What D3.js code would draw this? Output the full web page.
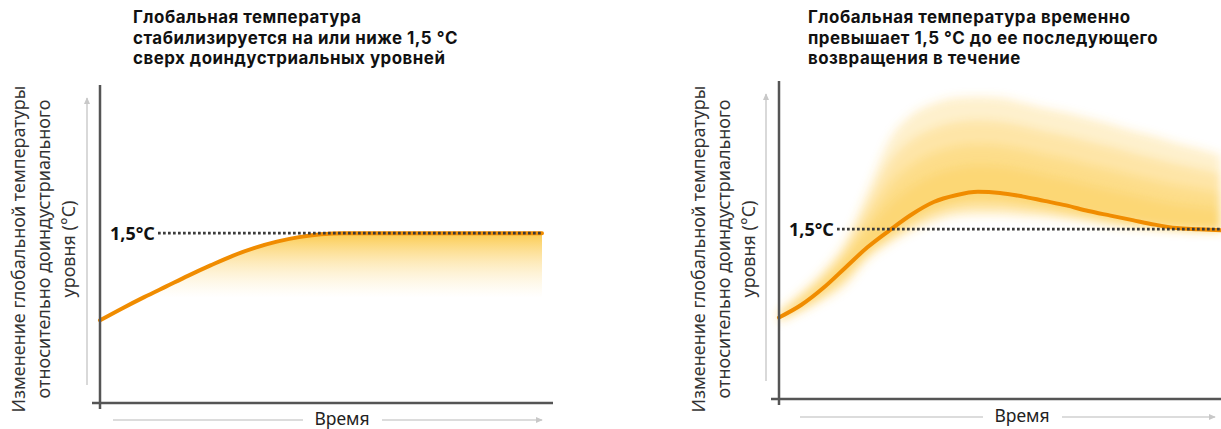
<!DOCTYPE html>
<html lang="ru">
<head>
<meta charset="UTF-8">
<title>1,5 °C</title>
<script src="https://d3js.org/d3.v7.min.js"></script>
<style>
  body { margin: 0; background: #fff; }
  svg text { font-family: "Noto Sans", "DejaVu Sans", sans-serif; }
  svg text.title { font-family: Inter, "Noto Sans", sans-serif; letter-spacing: 0.5px; }
</style>
</head>
<body>
<svg width="1221" height="429"></svg>
<script>
// --- data (time in arbitrary units 0..100, temperature change in °C) ---
const leftTitle = ["Глобальная температура", "стабилизируется на или ниже 1,5 °C", "сверх доиндустриальных уровней"];
const rightTitle = ["Глобальная температура временно", "превышает 1,5 °C до ее последующего", "возвращения в течение"];
const yLabel = ["Изменение глобальной температуры", "относительно доиндустриального", "уровня (°C)"];
const xLabel = "Время";
const thresholdLabel = "1,5°C";
const threshold = 1.5;

const leftTime = [0, 5, 10, 15, 20, 25, 30, 35, 40, 45, 50, 55, 60, 70, 80, 90, 100];
const leftTemp = [0.73, 0.835, 0.935, 1.03, 1.125, 1.215, 1.30, 1.37, 1.425, 1.465, 1.49, 1.5, 1.5, 1.5, 1.5, 1.5, 1.5];
const leftBandLower = [0.73, 0.835, 0.93, 0.93, 0.93, 0.93, 0.93, 0.93, 0.93, 0.93, 0.93, 0.93, 0.93, 0.93, 0.93, 0.93, 0.93];

const rightTime = [0, 5, 10, 15, 20, 25, 30, 35, 40, 45, 50, 55, 60, 65, 70, 75, 80, 85, 90, 95, 100];
const rightTemp = [0.72, 0.83, 0.98, 1.16, 1.34, 1.49, 1.63, 1.74, 1.80, 1.83, 1.82, 1.79, 1.75, 1.71, 1.66, 1.62, 1.58, 1.54, 1.51, 1.50, 1.49];
const rightBandUpper = [0.78, 0.95, 1.14, 1.40, 1.84, 2.29, 2.51, 2.61, 2.66, 2.67, 2.66, 2.62, 2.57, 2.53, 2.48, 2.43, 2.37, 2.32, 2.26, 2.21, 2.15];
const rightBandLower = [0.68, 0.77, 0.87, 1.00, 1.23, 1.37, 1.48, 1.56, 1.61, 1.62, 1.62, 1.61, 1.60, 1.58, 1.56, 1.53, 1.51, 1.50, 1.49, 1.48, 1.48];

const svg = d3.select("svg");
const W = 442, H = 317;
const x = d3.scaleLinear().domain([0, 100]).range([0, W]);
const y = d3.scaleLinear().domain([0, 2.8]).range([0, -H]);

const defs = svg.append("defs");
defs.append("marker")
    .attr("id", "arrow")
    .attr("viewBox", "0 0 10 10")
    .attr("refX", 8).attr("refY", 5)
    .attr("markerWidth", 5).attr("markerHeight", 5)
    .attr("orient", "auto")
  .append("path")
    .attr("d", "M0,1 L9,5 L0,9 Z")
    .attr("fill", "#c8c8c8");

defs.append("filter").attr("id", "soft")
    .attr("x", "-10%").attr("y", "-20%").attr("width", "120%").attr("height", "140%")
  .append("feGaussianBlur").attr("stdDeviation", 5);

const grad = defs.append("linearGradient")
    .attr("id", "fadeDown")
    .attr("gradientUnits", "userSpaceOnUse")
    .attr("x1", 0).attr("x2", 0)
    .attr("y1", y(threshold)).attr("y2", y(0.93));
grad.append("stop").attr("offset", 0).attr("stop-color", "#fbc53a").attr("stop-opacity", 0.9);
grad.append("stop").attr("offset", 0.5).attr("stop-color", "#fcd77a").attr("stop-opacity", 0.45);
grad.append("stop").attr("offset", 1).attr("stop-color", "#fde7b0").attr("stop-opacity", 0);

function panel(ox, oy, opts) {
    const g = svg.append("g").attr("transform", `translate(${ox},${oy})`);

    // gray direction arrows
    g.append("line")
        .attr("x1", -13).attr("x2", -13)
        .attr("y1", -18).attr("y2", -H + 12)
        .attr("stroke", "#d0d0d0").attr("stroke-width", 1.6)
        .attr("marker-end", "url(#arrow)");
    g.append("line")
        .attr("x1", opts.arrowX[0]).attr("x2", opts.arrowX[1])
        .attr("y1", opts.arrowY).attr("y2", opts.arrowY)
        .attr("stroke", "#d0d0d0").attr("stroke-width", 1.6);
    g.append("line")
        .attr("x1", opts.arrowX[2]).attr("x2", opts.arrowX[3])
        .attr("y1", opts.arrowY).attr("y2", opts.arrowY)
        .attr("stroke", "#d0d0d0").attr("stroke-width", 1.6)
        .attr("marker-end", "url(#arrow)");
    g.append("text")
        .attr("x", opts.xLabelX).attr("y", opts.arrowY + 5)
        .attr("text-anchor", "middle")
        .attr("font-size", 17.5).attr("fill", "#222")
        .text(xLabel);

    // y label, rotated
    const yl = g.append("text")
        .attr("transform", `translate(${opts.yLabelX},${opts.yLabelY}) rotate(-90)`)
        .attr("text-anchor", "middle")
        .attr("font-size", 18).attr("fill", "#333");
    yLabel.forEach((s, i) => yl.append("tspan")
        .attr("x", 0).attr("y", i * 25).text(s));

    // title
    const t = g.append("text")
        .attr("class", "title")
        .attr("font-size", 16.9).attr("font-weight", "bold").attr("fill", "#111");
    opts.title.forEach((s, i) => t.append("tspan")
        .attr("x", opts.titleX).attr("y", 23 - oy + i * 20.5).text(s));

    opts.drawBand(g);

    // main curve
    const line = d3.line()
        .x((d, i) => x(opts.time[i]))
        .y(d => y(d))
        .curve(d3.curveMonotoneX);
    g.append("path")
        .attr("d", line(opts.temp))
        .attr("fill", "none")
        .attr("stroke", "#f08c00")
        .attr("stroke-width", 4)
        .attr("stroke-linecap", "round");

    // 1.5 threshold
    g.append("line")
        .attr("x1", 58).attr("x2", opts.dotEnd)
        .attr("y1", y(threshold)).attr("y2", y(threshold))
        .attr("stroke", "#3a3a3a").attr("stroke-width", 2.7)
        .attr("stroke-dasharray", "2.7,2.3");
    g.append("text")
        .attr("x", 10).attr("y", y(threshold)).attr("dy", "0.36em")
        .attr("font-size", 18).attr("font-weight", "bold").attr("fill", "#111")
        .text(thresholdLabel);

    // axes
    g.append("line")
        .attr("x1", 0).attr("x2", 0)
        .attr("y1", 6).attr("y2", -H - 1)
        .attr("stroke", "#555").attr("stroke-width", 2.5);
    g.append("line")
        .attr("x1", -8).attr("x2", opts.axisEnd)
        .attr("y1", 0).attr("y2", 0)
        .attr("stroke", "#555").attr("stroke-width", 2.5);
}

// left panel
panel(100, 403, {
    title: leftTitle, titleX: 33, time: leftTime, temp: leftTemp,
    yLabelX: -75, yLabelY: -154, xLabelX: 242, arrowX: [13, 203, 282, 442], arrowY: 17,
    dotEnd: 443, axisEnd: 453,
    drawBand: g => {
        const area = d3.area()
            .x((d, i) => x(leftTime[i]))
            .y0((d, i) => y(leftBandLower[i]))
            .y1(d => y(d))
            .curve(d3.curveMonotoneX);
        g.append("path")
            .attr("d", area(leftTemp))
            .attr("fill", "url(#fadeDown)");
    }
});

// right panel
panel(779, 399, {
    title: rightTitle, titleX: 29, time: rightTime, temp: rightTemp,
    yLabelX: -74, yLabelY: -150, xLabelX: 243, arrowX: [21, 204, 283, 436], arrowY: 18,
    dotEnd: 445, axisEnd: 445,
    drawBand: g => {
        const layers = [1, 0.75, 0.5, 0.28];
        const bg = g.append("g").attr("filter", "url(#soft)");
        layers.forEach(k => {
            const area = d3.area()
                .x((d, i) => x(rightTime[i]))
                .y0((d, i) => y(d + k * (rightBandLower[i] - d)))
                .y1((d, i) => y(d + k * (rightBandUpper[i] - d)))
                .curve(d3.curveMonotoneX);
            bg.append("path")
                .attr("d", area(rightTemp))
                .attr("fill", "#fbc53a")
                .attr("fill-opacity", 0.26);
        });
    }
});
</script>
</body>
</html>
